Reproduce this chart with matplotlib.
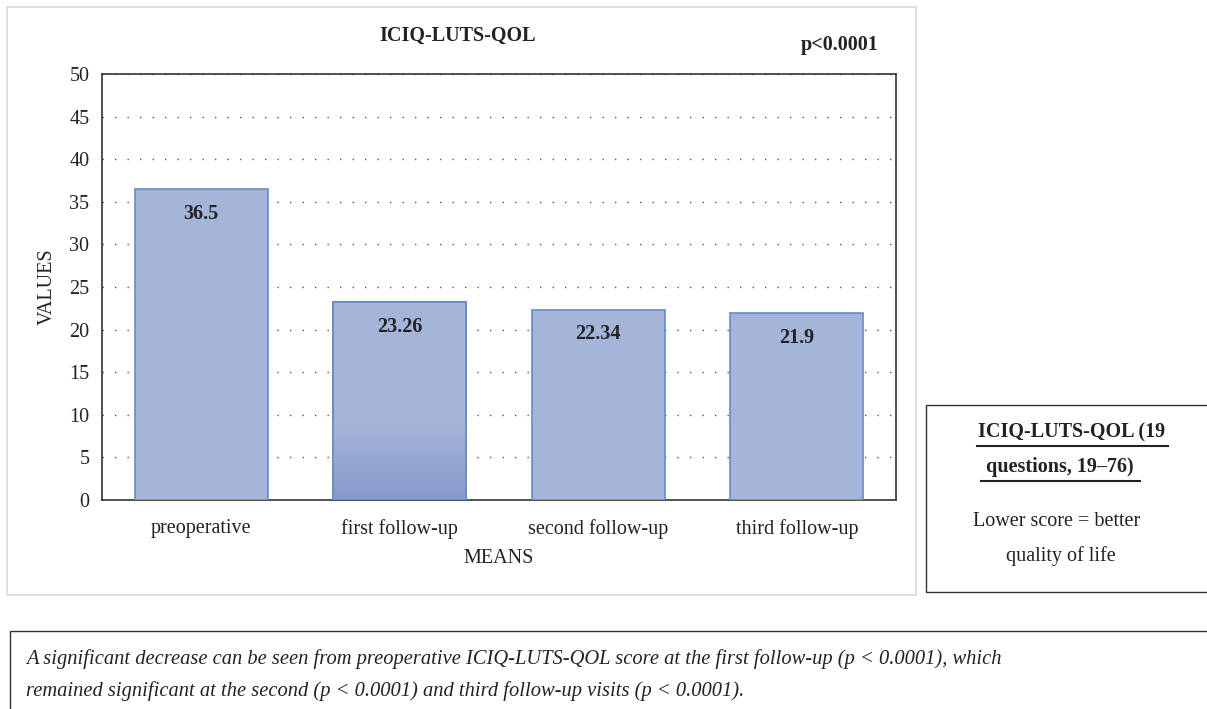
import matplotlib
matplotlib.use("Agg")
import matplotlib.pyplot as plt
import numpy as np
from matplotlib.patches import Rectangle
from matplotlib.colors import LinearSegmentedColormap

categories = ["preoperative", "first follow-up", "second follow-up", "third follow-up"]
values = [36.5, 23.26, 22.34, 21.9]
labels = ["36.5", "23.26", "22.34", "21.9"]
yticks = [0, 5, 10, 15, 20, 25, 30, 35, 40, 45, 50]

plt.rcParams['font.family'] = ['Liberation Serif', 'DejaVu Serif']

W, H = 1207, 709
fig = plt.figure(figsize=(W/100, H/100), dpi=100)

def fx(x): return x / W
def fy(y): return 1 - y / H

FS = 14.5
TC = '#222222'

# outer light frame
fig.patches.append(Rectangle((fx(7), fy(595)), fx(916) - fx(7), fy(7) - fy(595),
                             transform=fig.transFigure, fill=False, edgecolor='#d9d9d9', lw=1.2))
# right info box
fig.patches.append(Rectangle((fx(926), fy(592)), fx(1212) - fx(926), fy(405) - fy(592),
                             transform=fig.transFigure, fill=False, edgecolor='#333333', lw=1.0))
# bottom note box
fig.patches.append(Rectangle((fx(10), fy(715)), fx(1212) - fx(10), fy(631) - fy(715),
                             transform=fig.transFigure, fill=False, edgecolor='#333333', lw=1.0))

ax = fig.add_axes([fx(102), fy(500), fx(896) - fx(102), fy(74) - fy(500)])
x = np.arange(len(categories))
bars = ax.bar(x, values, width=0.67, color='#A5B5DA', edgecolor='#6A8AC6', linewidth=1.2, zorder=3)

# gradient on the second bar
cmap = LinearSegmentedColormap.from_list('g', ['#8799CC', '#A5B5DA'])
b = bars[1]
grad = np.linspace(0, 1, 100).reshape(-1, 1)
im = ax.imshow(grad, extent=(b.get_x(), b.get_x() + b.get_width(), 0, 9), origin='lower',
               cmap=cmap, aspect='auto', zorder=3.5)
im.set_clip_path(b)
ax.add_patch(Rectangle((b.get_x(), 0), b.get_width(), b.get_height(), fill=False,
                       edgecolor='#6A8AC6', lw=1.2, zorder=4))

for xi, v, lab in zip(x, values, labels):
    ax.text(xi, v - 2.9, lab, ha='center', va='center', fontsize=FS, fontweight='bold', color=TC, zorder=5)

ax.set_xlim(-0.5, len(categories) - 0.5)
ax.set_ylim(0, 50)
ax.set_yticks(yticks)
ax.set_yticklabels([str(t) for t in yticks], fontsize=FS, color=TC)
ax.set_xticks(x)
ax.set_xticklabels(categories, fontsize=FS, color=TC)
ax.tick_params(axis='x', length=0, pad=14)
ax.tick_params(axis='y', length=0, pad=9)
for s in ax.spines.values():
    s.set_color('#333333')
    s.set_linewidth(1.2)
ax.yaxis.grid(True, linestyle=(0, (1, 8)), color='#555555', linewidth=1.0, zorder=0)
ax.set_axisbelow(True)
ax.set_ylabel('VALUES', fontsize=FS, color=TC, labelpad=9)
ax.set_xlabel('MEANS', fontsize=FS, color=TC, labelpad=7)

fig.text(fx(458), fy(36), 'ICIQ-LUTS-QOL', ha='center', va='center', fontsize=FS, fontweight='bold', color=TC)
fig.text(fx(879), fy(45), 'p<0.0001', ha='right', va='center', fontsize=FS, fontweight='bold', color=TC)

# right box texts
fig.text(fx(1072), fy(432), 'ICIQ-LUTS-QOL (19', ha='center', va='center', fontsize=FS, fontweight='bold', color=TC)
fig.lines.append(plt.Line2D([fx(977), fx(1168)], [fy(446), fy(446)], transform=fig.transFigure, color=TC, lw=1.5))
fig.text(fx(1060), fy(467), 'questions, 19–76)', ha='center', va='center', fontsize=FS, fontweight='bold', color=TC)
fig.lines.append(plt.Line2D([fx(981), fx(1140)], [fy(481), fy(481)], transform=fig.transFigure, color=TC, lw=1.5))
fig.text(fx(1057), fy(522), 'Lower score = better', ha='center', va='center', fontsize=FS, color=TC)
fig.text(fx(1061), fy(556), 'quality of life', ha='center', va='center', fontsize=FS, color=TC)

# note text
fig.text(fx(26), fy(659), 'A significant decrease can be seen from preoperative ICIQ-LUTS-QOL score at the first follow-up (p < 0.0001), which',
         ha='left', va='center', fontsize=14.8, style='italic', color=TC)
fig.text(fx(26), fy(691), 'remained significant at the second (p < 0.0001) and third follow-up visits (p < 0.0001).',
         ha='left', va='center', fontsize=14.8, style='italic', color=TC)

fig.savefig('out.png', dpi=100)
